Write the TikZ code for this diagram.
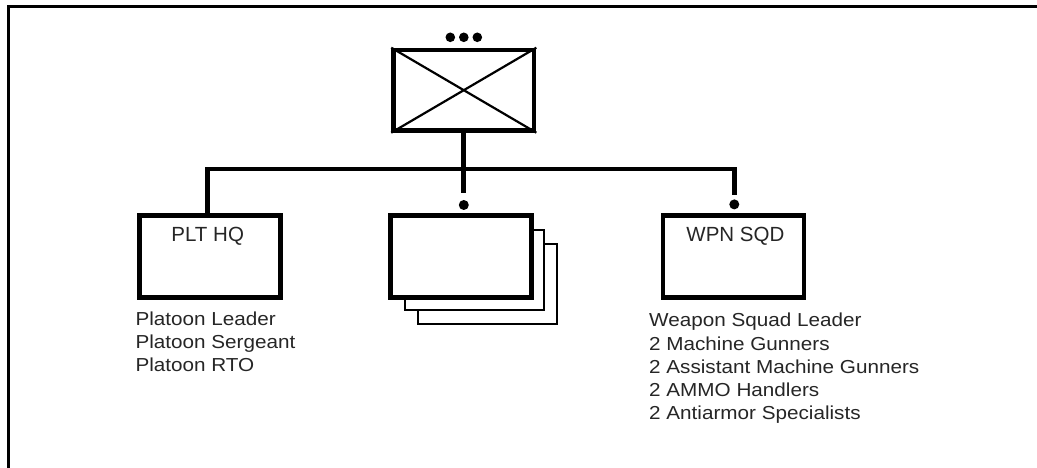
\documentclass[tikz,border=0pt]{standalone}
\usepackage{fontspec}
\setmainfont{Liberation Sans}
\newfontfamily\listfont{Liberation Sans}[FakeStretch=1.1]
\begin{document}
\begin{tikzpicture}[x=1pt,y=-1pt,
  unitbox/.style={draw=black, fill=white, line width=4.7pt, inner sep=0pt, minimum width=141pt, minimum height=82pt},
  backbox/.style={draw=black, fill=white, line width=2.2pt, inner sep=0pt, minimum width=139pt, minimum height=80pt},
  conn/.style={line width=4.7pt, line join=miter},
  thinline/.style={line width=2.2pt},
  dotnode/.style={circle, fill=black, inner sep=0pt, minimum size=10pt},
  lbl/.style={font=\fontsize{20.5}{24}\selectfont, text=black!85, inner sep=0pt, anchor=base},
  lst/.style={font=\listfont\fontsize{18.8}{23.3}\selectfont, text=black!85, align=left, inner sep=0pt, anchor=base west}]
\useasboundingbox (0,0) rectangle (1037,468);
\fill[white] (0,0) rectangle (1037,468);
% frame
\draw[line width=3pt] (8.5,468) -- (8.5,6.5) -- (1037,6.5);
% top unit
\node[unitbox, minimum width=140.4pt, minimum height=80.3pt] (plt) at (463.8,90.2) {};
\draw[thinline] (plt.north west) -- (plt.south east) (plt.north east) -- (plt.south west);
\node[dotnode, minimum size=9.6pt] (e1) at (450.3,37.3) {};
\node[dotnode, minimum size=9.6pt] (e2) at (463.8,37.3) {};
\node[dotnode, minimum size=9.6pt] (e3) at (477.3,37.3) {};
% stacked squads
\node[backbox] (sqb2) at (487.8,284.2) {};
\node[backbox] (sqb1) at (474.5,269.7) {};
\node[unitbox] (sq) at (461.3,256.4) {};
% HQ and WPN
\node[unitbox] (hq) at (209.7,256.4) {};
\node[unitbox] (wpn) at (733.4,256.4) {};
% dots above subordinate boxes
\node[dotnode] (d1) at (463.8,205) {};
\node[dotnode] (d2) at (734.3,204.4) {};
% connectors
\draw[conn] (plt.south) -- ([yshift=6.5pt]d1.north);
\draw[conn] ([xshift=-2.4pt]hq.north) -- ++(0,-43.9) -| ([yshift=4.5pt]d2.north);
% labels
\node[lbl] (hqlbl) at ([xshift=-2pt,yshift=-28pt]hq.north) {PLT HQ};
\node[lbl] (wpnlbl) at ([xshift=2pt,yshift=-28pt]wpn.north) {WPN SQD};
\node[lst] (hqlist) at (135.3,371.6) {Platoon Leader\\Platoon Sergeant\\Platoon RTO};
\node[lst] (wpnlist) at (649,419.9) {Weapon Squad Leader\\2 Machine Gunners\\2 Assistant Machine Gunners\\2 AMMO Handlers\\2 Antiarmor Specialists};
\end{tikzpicture}
\end{document}
